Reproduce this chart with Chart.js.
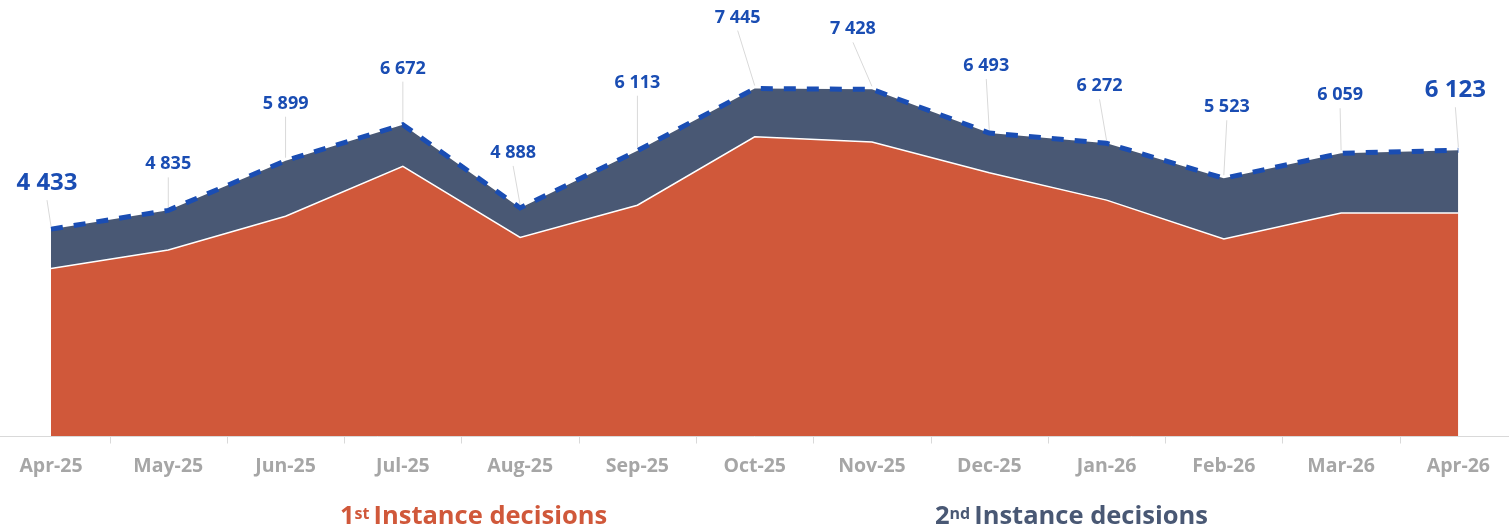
<!DOCTYPE html>
<html>
<head>
<meta charset="utf-8">
<script src="https://cdn.jsdelivr.net/npm/chart.js@4.4.1/dist/chart.umd.min.js"></script>
<style>
  html, body { margin: 0; padding: 0; background: #fff; }
  #wrap { position: relative; width: 1509px; height: 530px; }
  .legend {
    position: absolute; top: 499px;
    font-family: "Open Sans", sans-serif; font-weight: 700; font-size: 25.5px;
    white-space: nowrap; line-height: 30px;
  }
  .legend sup { font-size: 16px; position: relative; top: -1px; vertical-align: top; margin-right: 4px; }
  #leg1 { left: 340px; color: #D0583A; }
  #leg2 { left: 935px; color: #495874; }
</style>
</head>
<body>
<div id="wrap">
  <canvas id="myChart" width="1509" height="530"></canvas>
  <div class="legend" id="leg1">1<sup>st</sup>Instance decisions</div>
  <div class="legend" id="leg2">2<sup>nd</sup>Instance decisions</div>
</div>
<script>
const months = ['Apr-25', 'May-25', 'Jun-25', 'Jul-25', 'Aug-25', 'Sep-25', 'Oct-25',
  'Nov-25', 'Dec-25', 'Jan-26', 'Feb-26', 'Mar-26', 'Apr-26'];

// totals as labelled on the chart
const totals = [4433, 4835, 5899, 6672, 4888, 6113, 7445, 7428, 6493, 6272, 5523, 6059, 6123];

const firstInstance = [3590, 3985, 4710, 5780, 4255, 4945, 6410, 6300, 5640, 5055, 4220, 4780, 4780];
const secondInstance = [843, 850, 1189, 892, 633, 1168, 1035, 1128, 853, 1217, 1303, 1279, 1343];

// where each total label sits relative to its point (dx, dy)
const labelShift = [[-4, -46], [0, -46], [0, -57], [0, -56], [-7, -55], [0, -68], [-17, -71],
  [-19, -60], [-3, -67], [-7, -57], [3, -71], [-1, -58], [-3, -60]];

const ORANGE = '#D0583A';
const SLATE = '#495874';
const BLUE = '#1A4DB3';
const FONT = '"Open Sans", sans-serif';

function fmt(v) {
  return String(v).replace(/\B(?=(\d{3})+(?!\d))/g, ' ');
}

// axis line across the full width, tick marks between months
const axisPlugin = {
  id: 'axisLine',
  beforeDatasetsDraw(chart) {
    const { ctx, chartArea } = chart;
    const xs = chart.scales.x;
    const y = Math.round(chartArea.bottom) + 0.5;
    ctx.save();
    ctx.strokeStyle = '#D9D9D9';
    ctx.lineWidth = 1;
    ctx.beginPath();
    ctx.moveTo(0, y);
    ctx.lineTo(chart.width, y);
    for (let i = 0; i < months.length - 1; i++) {
      const mx = Math.round((xs.getPixelForValue(i) + xs.getPixelForValue(i + 1)) / 2) + 0.5;
      ctx.moveTo(mx, y);
      ctx.lineTo(mx, y + 7);
    }
    ctx.stroke();
    ctx.restore();
  }
};

// total labels with leader lines
const labelPlugin = {
  id: 'totalLabels',
  afterDatasetsDraw(chart) {
    const ctx = chart.ctx;
    const meta = chart.getDatasetMeta(2);
    meta.data.forEach((pt, i) => {
      const big = i === 0 || i === totals.length - 1;
      const lx = pt.x + labelShift[i][0];
      const ly = pt.y + labelShift[i][1];
      ctx.save();
      ctx.strokeStyle = '#D9D9D9';
      ctx.lineWidth = 1;
      ctx.beginPath();
      ctx.moveTo(lx, ly + (big ? 17 : 13));
      ctx.lineTo(pt.x, pt.y - 3);
      ctx.stroke();
      ctx.fillStyle = BLUE;
      ctx.font = (big ? '700 24px ' : '700 18px ') + FONT;
      ctx.textAlign = 'center';
      ctx.textBaseline = 'middle';
      ctx.fillText(fmt(totals[i]), lx, ly);
      ctx.restore();
    });
  }
};

const ctx = document.getElementById('myChart').getContext('2d');

const chart = new Chart(ctx, {
  type: 'line',
  data: {
    labels: months,
    datasets: [
      {
        label: '1st Instance decisions',
        data: firstInstance,
        backgroundColor: ORANGE,
        borderColor: '#FFFFFF',
        borderWidth: 1.5,
        fill: 'origin',
        stack: 'inst',
        order: 1,
        pointRadius: 0,
        tension: 0,
      },
      {
        label: '2nd Instance decisions',
        data: secondInstance,
        backgroundColor: SLATE,
        borderColor: SLATE,
        borderWidth: 0,
        fill: '-1',
        stack: 'inst',
        order: 2,
        pointRadius: 0,
        tension: 0,
      },
      {
        label: 'Total',
        data: totals,
        borderColor: BLUE,
        borderWidth: 5,
        borderDash: [12, 11],
        fill: false,
        stack: 'total',
        order: 0,
        pointRadius: 0,
        tension: 0,
      },
    ],
  },
  options: {
    responsive: false,
    animation: false,
    layout: { padding: { left: 51, right: 49, top: 16, bottom: 44 } },
    plugins: {
      legend: { display: false },
      tooltip: { enabled: false },
    },
    scales: {
      x: {
        offset: false,
        grid: { display: false, drawTicks: false },
        border: { display: false },
        ticks: {
          padding: 19,
          color: '#A6A6A6',
          font: { family: FONT, size: 19.5, weight: '700' },
          maxRotation: 0,
          autoSkip: false,
        },
        afterFit(scale) { scale.height = 50; },
      },
      y: {
        display: false,
        stacked: true,
        min: 0,
        max: 9000,
      },
    },
  },
  plugins: [axisPlugin, labelPlugin],
});
</script>
</body>
</html>
